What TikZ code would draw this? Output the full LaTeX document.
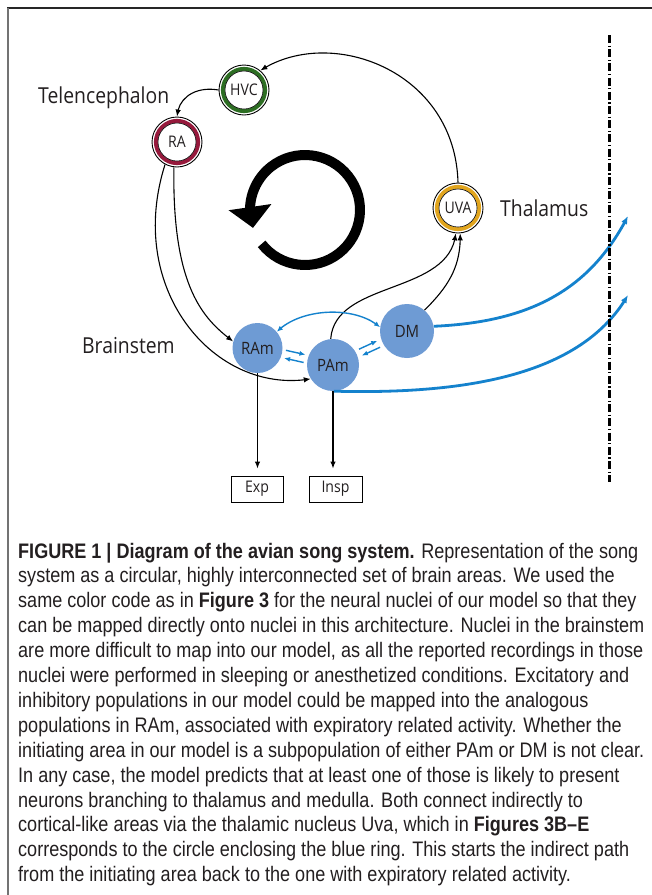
\documentclass[tikz,border=0pt]{standalone}
\usepackage{fontspec}
\setmainfont{Liberation Sans}[FakeStretch=0.86]
\newfontfamily\labfont{Open Sans}[FakeStretch=0.88]
\usetikzlibrary{arrows.meta,bending}
\definecolor{hvcgreen}{RGB}{45,110,35}
\definecolor{racrim}{RGB}{150,25,60}
\definecolor{uvagold}{RGB}{225,165,30}
\definecolor{nodeblue}{RGB}{110,155,212}
\definecolor{arrowblue}{RGB}{20,130,205}
\definecolor{txt}{RGB}{35,31,32}
\begin{document}
\begin{tikzpicture}[x=1pt,y=-1pt,
  ring/.style={circle, draw=black, line width=0.9pt, minimum size=50pt, inner sep=0pt,
    text=txt, font=\labfont\fontsize{16}{16}\selectfont,
    path picture={\draw[#1, line width=3.8pt] (path picture bounding box.center) circle[radius=21.2pt];
                  \draw[black, line width=0.6pt] (path picture bounding box.center) circle[radius=19pt];}},
  blob/.style={circle, fill=nodeblue, minimum size=50pt, inner sep=0pt, text=txt,
    font=\labfont\fontsize{17}{17}\selectfont},
  boxnode/.style={draw=black, line width=1pt, minimum width=52pt, minimum height=26pt, inner sep=0pt,
    text=txt, font=\labfont\fontsize{16}{16}\selectfont},
  region/.style={text=txt, font=\labfont\fontsize{22}{22}\selectfont, inner sep=0pt},
  conn/.style={draw=black, line width=1.1pt, -{Latex[length=7pt,width=5.5pt]}},
  bsmall/.style={draw=arrowblue, line width=1.4pt, -{Latex[length=6pt,width=5pt]}},
  bthick/.style={draw=arrowblue, line width=2.8pt, -{Latex[length=8pt,width=6.5pt]}},
  capline/.style={anchor=base west, inner sep=0pt, text=txt, font=\fontsize{21}{24}\selectfont}
]
\useasboundingbox (0,0) rectangle (652,895);
\fill[white] (0,0) rectangle (652,895);
% frame
\draw[black!85, line width=1.5pt] (7,8) -- (652,8);
\draw[black!55, line width=1.5pt] (8,8) -- (8,895);

% region labels
\node[region, anchor=base west] (tel) at (38,103) {Telencephalon};
\node[region, anchor=base west] (tha) at (500,216) {Thalamus};
\node[region, anchor=base west] (bra) at (82,353) {Brainstem};

% nodes
\node[ring=hvcgreen] (hvc) at (244,90) {HVC};
\node[ring=racrim] (ra) at (177,142) {RA};
\node[ring=uvagold] (uva) at (458,208) {UVA};
\node[blob] (ram) at (257.5,348) {RAm};
\node[blob, minimum size=52pt] (pam) at (333,365) {PAm};
\node[blob, minimum size=54pt] (dm) at (407,331) {DM};
\node[boxnode] (exp) at (257,489) {Exp};
\node[boxnode, minimum width=53pt] (insp) at (335.5,489) {Insp};

% circular arrow
\coordinate (cyc) at (305,210);
\draw[line width=10pt, -{Triangle[width=42pt,length=21pt,flex]}]
  ([shift={(142:55)}]cyc) arc[start angle=142, end angle=-199, radius=55];

% black connectors
\draw[conn] (uva.north) .. controls (455,70) and (330,25) .. (hvc.50);
\draw[conn] (hvc.180) .. controls (195,86) and (178,98) .. (ra.north);
\draw[conn] (ra.-97) .. controls (172,290) and (205,320) .. (ram.165);
\draw[conn] (ra.-118) .. controls (125,290) and (215,395) .. (pam.-148);
\draw[conn] (pam.95) .. controls (335,280) and (450,295) .. (uva.-95);
\draw[conn] (dm.50) .. controls (450,285) and (461,265) .. (uva.-85);
\draw[conn, shorten >=7pt] (ram.south) -- (ram.south |- exp.north);
\draw[conn, shorten >=7pt] (pam.south) -- (pam.south |- insp.north);

% blue connectors
\draw[bsmall, {Latex[length=6pt,width=5pt]}-{Latex[length=6pt,width=5pt]}]
  (ram.40) .. controls (300,308) and (355,305) .. (dm.172);
\draw[bsmall, shorten <=3pt, shorten >=3pt, transform canvas={shift={(0.9pt,3.9pt)}}] (ram) -- (pam);
\draw[bsmall, shorten <=3pt, shorten >=3pt, transform canvas={shift={(-0.9pt,-3.9pt)}}] (pam) -- (ram);
\draw[bsmall, shorten <=4pt, shorten >=4pt, transform canvas={shift={(-1.45pt,3.2pt)}}] (pam) -- (dm);
\draw[bsmall, shorten <=4pt, shorten >=4pt, transform canvas={shift={(1.45pt,-3.2pt)}}] (dm) -- (pam);

\coordinate (t1) at (628,216);
\coordinate (t2) at (628,295);
\draw[bthick] (dm.10) .. controls (530,322) and (590,290) .. (t1);
\draw[bthick] (pam.-88) .. controls (480,395) and (585,370) .. (t2);

% dash-dot boundary
\draw[black, line width=3pt, dash pattern=on 8pt off 2.5pt on 1.2pt off 2.5pt] (609,35) -- (609,482);

% caption
\node[capline] (c1) at (18,558.0) {\textbf{FIGURE 1 | Diagram of the avian song system.} Representation of the song};
\node[capline] (c2) at (18,582.9) {system as a circular, highly interconnected set of brain areas. We used the};
\node[capline] (c3) at (18,607.8) {same color code as in \textbf{Figure 3} for the neural nuclei of our model so that they};
\node[capline] (c4) at (18,632.7) {can be mapped directly onto nuclei in this architecture. Nuclei in the brainstem};
\node[capline] (c5) at (18,657.6) {are more difficult to map into our model, as all the reported recordings in those};
\node[capline] (c6) at (18,682.5) {nuclei were performed in sleeping or anesthetized conditions. Excitatory and};
\node[capline] (c7) at (18,707.4) {inhibitory populations in our model could be mapped into the analogous};
\node[capline] (c8) at (18,732.3) {populations in RAm, associated with expiratory related activity. Whether the};
\node[capline] (c9) at (18,757.2) {initiating area in our model is a subpopulation of either PAm or DM is not clear.};
\node[capline] (c10) at (18,782.1) {In any case, the model predicts that at least one of those is likely to present};
\node[capline] (c11) at (18,807.0) {neurons branching to thalamus and medulla. Both connect indirectly to};
\node[capline] (c12) at (18,831.9) {cortical-like areas via the thalamic nucleus Uva, which in \textbf{Figures 3B–E}};
\node[capline] (c13) at (18,856.8) {corresponds to the circle enclosing the blue ring. This starts the indirect path};
\node[capline] (c14) at (18,881.7) {from the initiating area back to the one with expiratory related activity.};
\end{tikzpicture}
\end{document}
